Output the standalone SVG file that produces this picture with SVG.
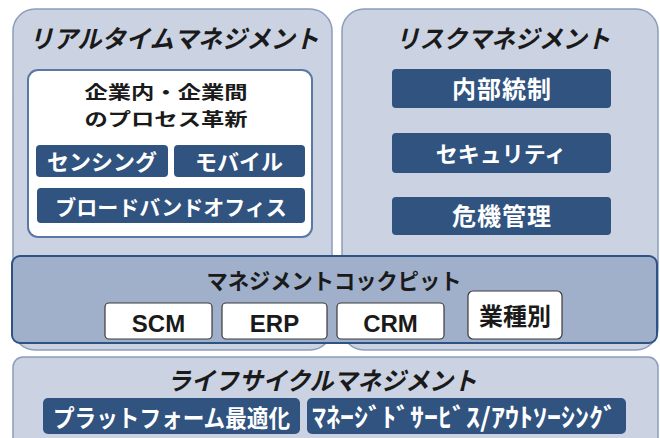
<svg xmlns="http://www.w3.org/2000/svg" width="660" height="438" viewBox="0 0 660 438">
<style>
.panel{fill:#cbd2e2;stroke:#8c9dbb;stroke-width:1.5}
.blue{fill:#30537f}
.wbox{fill:#ffffff;stroke:#3a3a3a;stroke-width:1.2}
.jp{font-family:"Noto Sans CJK JP","Noto Sans",sans-serif;font-weight:bold}
.title{font-size:25px;font-style:italic;fill:#1a1a1a;text-anchor:middle}
.wt{fill:#ffffff;text-anchor:middle}
.bt{fill:#1a1a1a;text-anchor:middle}
.lat{font-family:"Liberation Sans",Arial,sans-serif;font-weight:bold;font-size:24px;fill:#1a1a1a;text-anchor:middle}
</style>
<rect width="660" height="438" fill="#ffffff"/>
<g id="realtime">
<rect class="panel" x="13" y="9" width="319" height="341" rx="22"/>
<text class="jp title" x="174" y="48" textLength="290" lengthAdjust="spacingAndGlyphs">リアルタイムマネジメント</text>
<g id="process">
<rect x="28" y="70" width="284" height="167" rx="10" fill="#ffffff" stroke="#5a78a5" stroke-width="2"/>
<text class="jp bt" x="166" y="99" font-size="18" textLength="163" lengthAdjust="spacingAndGlyphs">企業内・企業間</text>
<text class="jp bt" x="166" y="126" font-size="18" textLength="163" lengthAdjust="spacingAndGlyphs">のプロセス革新</text>
</g>
<g id="sensing"><rect class="blue" x="36" y="145" width="132" height="32" rx="4"/><text class="jp wt" x="102" y="170" font-size="22">センシング</text></g>
<g id="mobile"><rect class="blue" x="174" y="145" width="131" height="32" rx="4"/><text class="jp wt" x="239" y="170" font-size="22">モバイル</text></g>
<g id="broadband"><rect class="blue" x="37" y="188" width="268" height="35" rx="4"/><text class="jp wt" x="171" y="215" font-size="21">ブロードバンドオフィス</text></g>
</g>
<g id="risk">
<rect class="panel" x="342" y="9" width="316" height="341" rx="22"/>
<text class="jp title" x="503" y="48" textLength="215" lengthAdjust="spacingAndGlyphs">リスクマネジメント</text>
<g id="internal"><rect class="blue" x="392" y="69" width="219" height="39" rx="4"/><text class="jp wt" x="502" y="98" font-size="24" letter-spacing="1">内部統制</text></g>
<g id="security"><rect class="blue" x="392" y="133" width="219" height="40" rx="4"/><text class="jp wt" x="501" y="162" font-size="22">セキュリティ</text></g>
<g id="crisis"><rect class="blue" x="392" y="197" width="219" height="38" rx="4"/><text class="jp wt" x="502" y="225" font-size="24" letter-spacing="1">危機管理</text></g>
</g>
<g id="cockpit">
<rect x="12" y="256" width="645" height="87" rx="8" fill="#a0b0ca" stroke="#2d5284" stroke-width="2"/>
<text class="jp bt" x="334" y="289" font-size="22" textLength="255" lengthAdjust="spacingAndGlyphs">マネジメントコックピット</text>
<g id="scm"><rect class="wbox" x="105" y="303" width="107" height="36" rx="4"/><text class="lat" x="158.5" y="332">SCM</text></g>
<g id="erp"><rect class="wbox" x="222" y="303" width="105" height="36" rx="4"/><text class="lat" x="274.5" y="332">ERP</text></g>
<g id="crm"><rect class="wbox" x="337" y="303" width="107" height="36" rx="4"/><text class="lat" x="390.5" y="332">CRM</text></g>
<g id="industry"><rect class="wbox" x="468" y="291" width="94" height="48" rx="5"/><text class="jp bt" x="515" y="325" font-size="24">業種別</text></g>
</g>
<g id="lifecycle">
<rect class="panel" x="13" y="357" width="645" height="100" rx="10"/>
<text class="jp title" x="322" y="390" textLength="310" lengthAdjust="spacingAndGlyphs">ライフサイクルマネジメント</text>
<g id="platform"><rect class="blue" x="43" y="398" width="257" height="36" rx="5"/><text class="jp wt" x="171.5" y="427" font-size="24" textLength="237" lengthAdjust="spacingAndGlyphs">プラットフォーム最適化</text></g>
<g id="managed"><rect class="blue" x="307" y="398" width="319" height="36" rx="5"/><text class="jp wt" x="464.5" y="427" font-size="26" textLength="305" lengthAdjust="spacingAndGlyphs">ﾏﾈｰｼﾞﾄﾞｻｰﾋﾞｽ/ｱｳﾄｿｰｼﾝｸﾞ</text></g>
</g>
<g id="connectors"></g>
</svg>
